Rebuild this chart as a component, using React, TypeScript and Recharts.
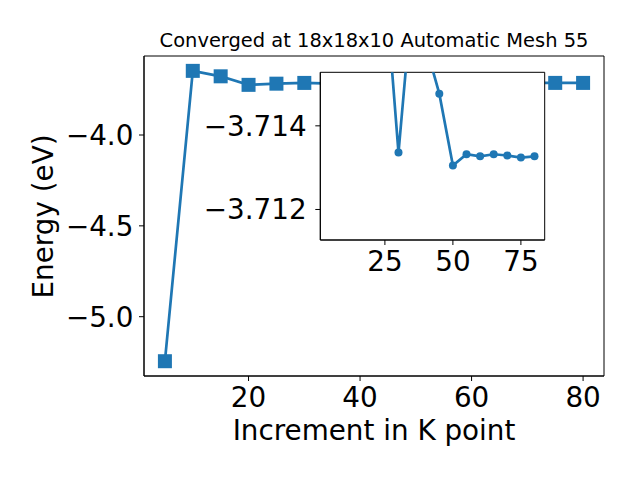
import React from 'react';
import { LineChart, Line, XAxis, YAxis, ReferenceArea, Label, CartesianGrid } from 'recharts';

const kPoints = [5, 10, 15, 20, 25, 30, 35, 40, 45, 50, 55, 60, 65, 70, 75, 80];
const energies = [
  -5.245, -3.647, -3.677, -3.724, -3.7175, -3.71336, -3.71705, -3.71593,
  -3.71477, -3.71305, -3.71332, -3.71327, -3.71332, -3.71329, -3.71324, -3.71327,
];
const insetStartK = 25;
const mainXTicks = [20, 40, 60, 80];
const mainYTicks = [-5.0, -4.5, -4.0];
const insetXTicks = [25, 50, 75];
const insetYTicks = [-3.714, -3.712];
const titleText = 'Converged at 18x18x10 Automatic Mesh 55';
const xLabelText = 'Increment in K point';
const yLabelText = 'Energy (eV)';

const data = kPoints.map((k, i) => ({ k, e: energies[i] }));
const insetData = data.filter((d) => d.k >= insetStartK);

const BLUE = '#1f77b4';
const FONT = 'DejaVu Sans';
const TICK_FS = 27.8;

const xDomain: [number, number] = [1.25, 83.75];
const mainYDomain: [number, number] = [-5.3264, -3.5652];
const insetYDomain: [number, number] = [-3.71528, -3.71127];

const minus = (s: string) => s.replace('-', '\u2212');

const tickStyle = { fontSize: TICK_FS, fill: '#000', fontFamily: FONT };

const SquareDot = (props: any) => {
  const { cx, cy, index } = props;
  if (cx == null || cy == null) return <g key={`s${index}`} />;
  return <rect key={`s${index}`} x={cx - 7} y={cy - 7} width={14} height={14} fill={BLUE} />;
};

const CircleDot = (props: any) => {
  const { cx, cy, index } = props;
  if (cx == null || cy == null) return <g key={`c${index}`} />;
  return <circle key={`c${index}`} cx={cx} cy={cy} r={4} fill={BLUE} />;
};

const XLabel = (props: any) => {
  const vb = props.viewBox || {};
  return (
    <text x={vb.x + vb.width / 2} y={vb.y + 64} textAnchor="middle" fontSize={TICK_FS} fontFamily={FONT} fill="#000">
      {xLabelText}
    </text>
  );
};

const YLabel = () => {
  const x = 53.3;
  const y = 216.5;
  return (
    <text x={x} y={y} transform={`rotate(-90, ${x}, ${y})`} textAnchor="middle" fontSize={TICK_FS} fontFamily={FONT} fill="#000">
      {yLabelText}
    </text>
  );
};

export default function App() {
  return (
    <div style={{ position: 'absolute', left: 0, top: 0, width: 640, height: 480, background: '#fff' }}>
      <div style={{ position: 'absolute', left: 0, top: 0 }}>
        <LineChart width={640} height={480} data={data} margin={{ top: 56, right: 36, bottom: 0, left: 0 }}>
          <XAxis
            dataKey="k"
            type="number"
            domain={xDomain}
            ticks={mainXTicks}
            allowDataOverflow
            height={104}
            tickSize={5}
            tickMargin={6.5}
            tick={tickStyle}
            axisLine={{ stroke: '#000', strokeWidth: 1 }}
            tickLine={{ stroke: '#000', strokeWidth: 1 }}
          >
            <Label content={<XLabel />} />
          </XAxis>
          <YAxis
            type="number"
            domain={mainYDomain}
            ticks={mainYTicks}
            allowDataOverflow
            width={144}
            tickSize={5}
            tickMargin={5.6}
            tick={tickStyle}
            tickFormatter={(v: number) => minus(v.toFixed(1))}
            axisLine={{ stroke: '#000', strokeWidth: 1 }}
            tickLine={{ stroke: '#000', strokeWidth: 1 }}
          >
            <Label content={<YLabel />} />
          </YAxis>
          <ReferenceArea x1={xDomain[0]} x2={xDomain[1]} y1={mainYDomain[0]} y2={mainYDomain[1]} fill="none" stroke="#000" strokeWidth={1} ifOverflow="visible" />
          <Line
            dataKey="e"
            stroke={BLUE}
            strokeWidth={2.7}
            dot={SquareDot}
            activeDot={false}
            isAnimationActive={false}
          />
        </LineChart>
      </div>
      <svg width={640} height={60} style={{ position: 'absolute', left: 0, top: 0 }}>
        <text x={374} y={47.4} textAnchor="middle" fontSize={19.44} fontFamily={FONT} fill="#000">
          {titleText}
        </text>
      </svg>
      <div style={{ position: 'absolute', left: 180, top: 60 }}>
        <LineChart width={380} height={230} data={insetData} margin={{ top: 12.3, right: 15.3, bottom: 0, left: 0 }}>
          <CartesianGrid fill="#fff" horizontal={false} vertical={false} />
          <XAxis
            dataKey="k"
            type="number"
            domain={xDomain}
            ticks={insetXTicks}
            allowDataOverflow
            height={50}
            tickSize={5}
            tickMargin={6.3}
            tick={tickStyle}
            axisLine={{ stroke: '#000', strokeWidth: 1 }}
            tickLine={{ stroke: '#000', strokeWidth: 1 }}
          />
          <YAxis
            type="number"
            domain={insetYDomain}
            reversed
            ticks={insetYTicks}
            allowDataOverflow
            width={140.3}
            tickSize={5}
            tickMargin={8.6}
            tick={tickStyle}
            tickFormatter={(v: number) => minus(v.toFixed(3))}
            axisLine={{ stroke: '#000', strokeWidth: 1 }}
            tickLine={{ stroke: '#000', strokeWidth: 1 }}
          />
          <ReferenceArea x1={xDomain[0]} x2={xDomain[1]} y1={insetYDomain[0]} y2={insetYDomain[1]} fill="none" stroke="#000" strokeWidth={1} ifOverflow="visible" />
          <Line
            dataKey="e"
            stroke={BLUE}
            strokeWidth={2.7}
            dot={CircleDot}
            activeDot={false}
            isAnimationActive={false}
          />
        </LineChart>
      </div>
    </div>
  );
}
